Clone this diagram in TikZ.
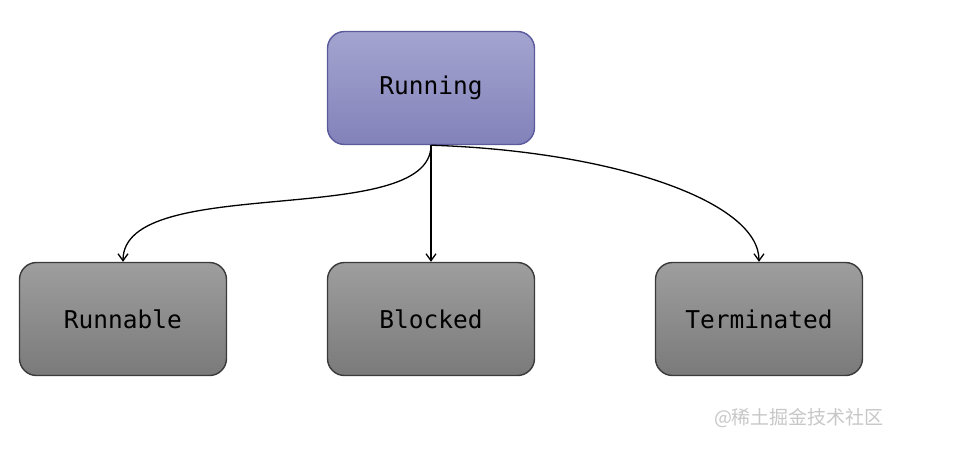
\documentclass[tikz,border=0pt]{standalone}
\usepackage{fontspec}
\setmonofont{DejaVu Sans Mono}
\newfontfamily\cjk{Noto Sans CJK SC}
\usepackage{tikz}
\usetikzlibrary{arrows.meta,positioning}
\definecolor{runtop}{HTML}{A4A4D0}
\definecolor{runbottom}{HTML}{8282BA}
\definecolor{runedge}{HTML}{5A5A9C}
\definecolor{statetop}{HTML}{9E9E9E}
\definecolor{statebottom}{HTML}{7A7A7A}
\definecolor{stateedge}{HTML}{3A3A3A}

\begin{document}
\begin{tikzpicture}[x=1pt,y=-1pt,>={Straight Barb[length=7pt,width=10pt]},
    font=\ttfamily\fontsize{24.5}{28}\selectfont,
    statebox/.style={rounded corners=17pt,minimum width=207pt,
      minimum height=113pt,inner sep=0pt,draw=stateedge,line width=1.4pt,
      top color=statetop,bottom color=statebottom},
    runbox/.style={statebox,draw=runedge,top color=runtop,bottom color=runbottom},
    link/.style={->,line width=1.3pt,black}]
  \useasboundingbox[fill=white] (0,0) rectangle (975,448);
  \node[runbox] (running) at (431,88) {Running};
  \node[statebox] (runnable) at (123,319) {Runnable};
  \node[statebox] (blocked) at (431,319) {Blocked};
  \node[statebox] (terminated) at (759,319) {Terminated};
  \draw[link] (running.south) .. controls (431,230) and (123,172) .. (runnable.north);
  \draw[link] (running.south) -- (blocked.north);
  \draw[link] (running.south) .. controls (612,151) and (759,201) .. (terminated.north);
  \node[font=\cjk\fontsize{19}{22}\selectfont,text=black!22] (watermark) at (799,418)
    {@稀土掘金技术社区};
\end{tikzpicture}
\end{document}
